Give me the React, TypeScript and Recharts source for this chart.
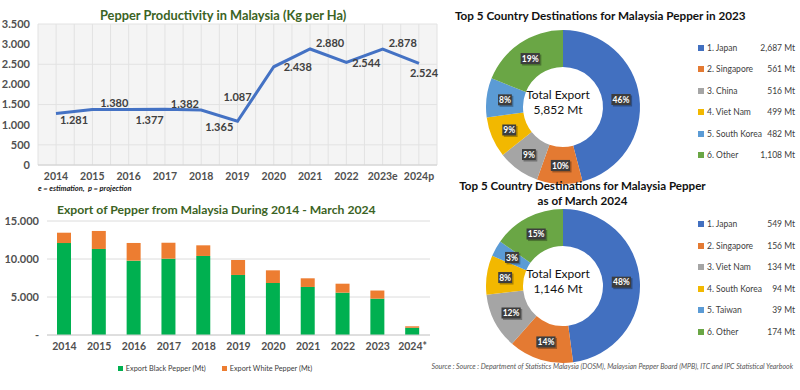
import React from 'react'
import {
  LineChart,
  Line,
  BarChart,
  Bar,
  PieChart,
  Pie,
  Cell,
  XAxis,
  YAxis,
  CartesianGrid,
  LabelList,
  Legend,
} from 'recharts'

// Productivity (Kg per Ha)
const years = ['2014', '2015', '2016', '2017', '2018', '2019', '2020', '2021', '2022', '2023e', '2024p']
const productivity = [1281, 1380, 1377, 1382, 1365, 1087, 2438, 2880, 2544, 2878, 2524]
const productivityTicks = [0, 500, 1000, 1500, 2000, 2500, 3000, 3500]

// Export volumes (Mt)
const exportYears = ['2014', '2015', '2016', '2017', '2018', '2019', '2020', '2021', '2022', '2023', '2024*']
const blackPepper = [12100, 11320, 9780, 10040, 10400, 7900, 6840, 6320, 5570, 4780, 950]
const whitePepper = [1360, 2370, 2330, 2100, 1400, 1970, 1670, 1140, 1180, 1072, 196]
const exportTicks = [0, 5000, 10000, 15000]

// Destinations
const dest2023Names = ['1. Japan', '2. Singapore', '3. China', '4. Viet Nam', '5. South Korea', '6. Other']
const dest2023Values = [2687, 561, 516, 499, 482, 1108]
const total2023 = 5852

const dest2024Names = ['1. Japan', '2. Singapore', '3. Viet Nam', '4. South Korea', '5. Taiwan', '6. Other']
const dest2024Values = [549, 156, 134, 94, 39, 174]
const total2024 = 1146

const sliceColors = ['#4270c0', '#e47a32', '#a5a5a5', '#f2b800', '#5b9bd5', '#6aa645']
const titleGreen = '#3b6324'
const FONT = 'Lato, sans-serif'

// where each productivity label sits relative to its point
const labelOffsets = [
  [18, 7], [22, -6], [21, 10], [20, -5], [18, 17], [0, -24],
  [24, 0], [20, -6], [20, 0], [20, -6], [5, 10],
]

const dotted = (n: number) => n === 0 ? '0' : String(n).replace(/\B(?=(\d{3})+(?!\d))/g, '.')
const comma = (n: number) => String(n).replace(/\B(?=(\d{3})+(?!\d))/g, ',')

const lineData = years.map((y, i) => ({ year: y, value: productivity[i] }))
const barData = exportYears.map((y, i) => ({ year: y, black: blackPepper[i], white: whitePepper[i] }))
const pie2023 = dest2023Names.map((n, i) => ({ name: n, value: dest2023Values[i] }))
const pie2024 = dest2024Names.map((n, i) => ({ name: n, value: dest2024Values[i] }))

const RADIAN = Math.PI / 180

function pctLabel(total: number) {
  return (props: any) => {
    const { cx, cy, midAngle, innerRadius, outerRadius, value } = props
    const r = (innerRadius + outerRadius) / 2
    const x = cx + r * Math.cos(-midAngle * RADIAN)
    const y = cy + r * Math.sin(-midAngle * RADIAN)
    const txt = Math.round((value / total) * 100) + '%'
    const w = txt.length * 5.4 + 3
    return (
      <g>
        <rect x={x - w / 2 + 1.5} y={y - 5.5 + 1.5} width={w} height={11} fill="#000" opacity={0.3} />
        <rect x={x - w / 2} y={y - 5.5} width={w} height={11} fill="#3d3d3d" />
        <text x={x} y={y + 3.2} textAnchor="middle" fill="#fff" fontSize={8.5} fontWeight="bold" fontFamily={FONT}>
          {txt}
        </text>
      </g>
    )
  }
}

function ProdLabel(props: any) {
  const { x, y, value, index } = props
  const [dx, dy] = labelOffsets[index]
  return (
    <text x={x + dx} y={y + dy + 4} textAnchor="middle" fontSize={11} fontWeight="bold" fill="#404040" fontFamily={FONT}>
      {dotted(value)}
    </text>
  )
}

function DestLegend({ names, values, top, left, gap }: { names: string[]; values: number[]; top: number; left: number; gap: number }) {
  return (
    <div style={{ position: 'absolute', top, left, width: 97 }}>
      {names.map((n, i) => (
        <div key={n} style={{ position: 'absolute', top: i * gap, left: 0, width: 97, height: 12, fontSize: 8.5, color: '#404040', display: 'flex', alignItems: 'center', whiteSpace: 'nowrap' }}>
          <span style={{ width: 6, height: 6, background: sliceColors[i], marginRight: 3 }} />
          <span style={{ flex: 1 }}>{n}</span>
          <span>{comma(values[i])} Mt</span>
        </div>
      ))}
    </div>
  )
}

function Donut({ data, total, top, left }: { data: { name: string; value: number }[]; total: number; top: number; left: number }) {
  const sum = data.reduce((s, d) => s + d.value, 0)
  return (
    <div style={{ position: 'absolute', top, left, width: 200, height: 170 }}>
      <PieChart width={200} height={170}>
        <Pie
          data={data}
          dataKey="value"
          cx={100}
          cy={82}
          innerRadius={40}
          outerRadius={77}
          startAngle={90}
          endAngle={-270}
          stroke="none"
          label={pctLabel(sum)}
          labelLine={false}
          isAnimationActive={false}
        >
          {data.map((d, i) => (
            <Cell key={d.name} fill={sliceColors[i]} />
          ))}
        </Pie>
      </PieChart>
      <div style={{ position: 'absolute', top: 67, left: 50, width: 100, textAlign: 'center', fontSize: 12, lineHeight: '15px', color: '#111' }}>
        Total Export<br />{comma(total)} Mt
      </div>
    </div>
  )
}

export default function App() {
  return (
    <div style={{ position: 'absolute', left: 0, top: 0, width: 800, height: 390, background: '#fff', fontFamily: FONT, overflow: 'hidden' }}>
      {/* productivity line */}
      <div style={{ position: 'absolute', top: 7, left: 100, fontSize: 12.8, fontWeight: 'bold', color: titleGreen, whiteSpace: 'nowrap' }}>
        Pepper Productivity in Malaysia (Kg per Ha)
      </div>
      <div style={{ position: 'absolute', top: 0, left: 0 }}>
        <LineChart width={445} height={195} data={lineData} margin={{ top: 24, right: 8, bottom: 0, left: 0 }}>
          <CartesianGrid
            stroke="#e2e2e2"
            fill="#f4f4f4"
            verticalCoordinatesGenerator={({ offset }: any) =>
              Array.from({ length: 23 }, (_, i) => offset.left + (i * offset.width) / 22)
            }
          />
          <XAxis dataKey="year" tickLine={false} padding={{ left: 18, right: 18 }} axisLine={{ stroke: '#d0d0d0' }} height={30} tick={{ fontSize: 10.5, fontWeight: 'bold', fill: '#505050' }} />
          <YAxis domain={[0, 3500]} ticks={productivityTicks} tickFormatter={dotted} width={38} tickLine={false} axisLine={false} tick={{ fontSize: 11, fontWeight: 'bold', fill: '#505050' }} />
          <Line type="linear" dataKey="value" stroke="#4472c4" strokeWidth={3} dot={false} isAnimationActive={false}>
            <LabelList dataKey="value" content={ProdLabel} />
          </Line>
        </LineChart>
      </div>
      <div style={{ position: 'absolute', top: 184, left: 38, fontSize: 7.5, fontStyle: 'italic', fontWeight: 'bold', color: '#222' }}>
        e = estimation,&nbsp; p = projection
      </div>

      {/* exports stacked bars */}
      <div style={{ position: 'absolute', top: 202, left: 57, fontSize: 12.2, fontWeight: 'bold', color: titleGreen, whiteSpace: 'nowrap' }}>
        Export of Pepper from Malaysia During 2014 - March 2024
      </div>
      <div style={{ position: 'absolute', top: 200, left: 0 }}>
        <BarChart width={445} height={190} data={barData} margin={{ top: 21, right: 15, bottom: 0, left: 0 }}>
          <CartesianGrid vertical={false} stroke="#dcdcdc" />
          <XAxis dataKey="year" tickLine={false} axisLine={{ stroke: '#d0d0d0' }} height={25} tick={{ fontSize: 10.5, fontWeight: 'bold', fill: '#505050' }} />
          <YAxis domain={[0, 15000]} ticks={exportTicks} tickFormatter={(v: number) => (v === 0 ? '-' : dotted(v))} width={47} tickLine={false} axisLine={false} tick={{ fontSize: 11, fontWeight: 'bold', fill: '#505050' }} />
          <Legend
            verticalAlign="bottom"
            content={() => (
              <div style={{ height: 30, boxSizing: 'border-box', paddingTop: 2, display: 'flex', justifyContent: 'center', gap: 16, fontSize: 7.3, color: '#404040' }}>
                <span style={{ display: 'flex', alignItems: 'center', height: 12 }}>
                  <span style={{ width: 5, height: 5, background: '#00b050', marginRight: 3 }} />Export Black Pepper (Mt)
                </span>
                <span style={{ display: 'flex', alignItems: 'center', height: 12 }}>
                  <span style={{ width: 5, height: 5, background: '#ed7d31', marginRight: 3 }} />Export White Pepper (Mt)
                </span>
              </div>
            )}
          />
          <Bar dataKey="black" stackId="a" fill="#00b050" barSize={14} isAnimationActive={false} />
          <Bar dataKey="white" stackId="a" fill="#ed7d31" barSize={14} isAnimationActive={false} />
        </BarChart>
      </div>

      {/* destinations 2023 */}
      <div style={{ position: 'absolute', top: 8, left: 455, fontSize: 11.7, fontWeight: 'bold', color: '#111', whiteSpace: 'nowrap' }}>
        Top 5 Country Destinations for Malaysia Pepper in 2023
      </div>
      <Donut data={pie2023} total={total2023} top={20} left={458} />
      <DestLegend names={dest2023Names} values={dest2023Values} top={42} left={698} gap={21.4} />

      {/* destinations 2024 */}
      <div style={{ position: 'absolute', top: 178, left: 440, width: 285, textAlign: 'center', fontSize: 11.6, lineHeight: '15px', fontWeight: 'bold', color: '#111' }}>
        Top 5 Country Destinations for Malaysia Pepper<br />as of March 2024
      </div>
      <Donut data={pie2024} total={total2024} top={199} left={458} />
      <DestLegend names={dest2024Names} values={dest2024Values} top={218} left={698} gap={21.6} />

      <div style={{ position: 'absolute', top: 362, right: 7, fontSize: 7, fontStyle: 'italic', color: '#555', whiteSpace: 'nowrap' }}>
        Source : Source : Department of Statistics Malaysia (DOSM), Malaysian Pepper Board (MPB), ITC and IPC Statistical Yearbook
      </div>
    </div>
  )
}
